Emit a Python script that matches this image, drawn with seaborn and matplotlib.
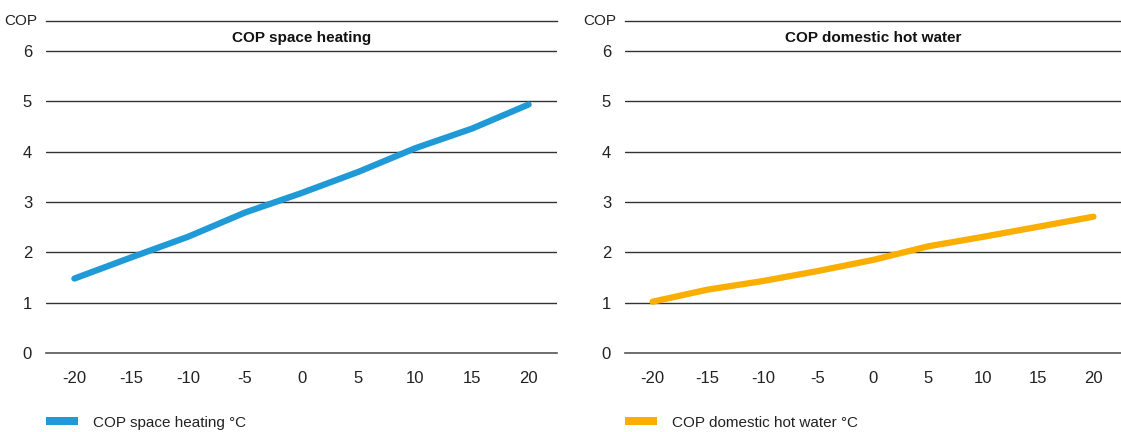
import pandas as pd
import numpy as np
import seaborn as sns
import matplotlib.pyplot as plt
from matplotlib.patches import Patch

# Data
temps = [-20, -15, -10, -5, 0, 5, 10, 15, 20]
cop_heating = [1.48, 1.90, 2.31, 2.79, 3.18, 3.60, 4.07, 4.46, 4.94]
cop_hot_water = [1.02, 1.26, 1.43, 1.63, 1.85, 2.12, 2.31, 2.51, 2.71]
y_ticks = [0, 1, 2, 3, 4, 5, 6]

titles = ['COP space heating', 'COP domestic hot water']
legend_labels = ['COP space heating °C', 'COP domestic hot water °C']
colors = ['#1f9ad7', '#f9ae00']

sns.set_style('white')
plt.rcParams['font.family'] = ['Liberation Sans', 'DejaVu Sans']
plt.rcParams['axes.unicode_minus'] = False

df = pd.DataFrame({'temp': temps, 'heating': cop_heating, 'hot_water': cop_hot_water})

fig = plt.figure(figsize=(11.21, 4.32), dpi=100)
ax1 = fig.add_axes([46 / 1121, 1 - 353 / 432, 511 / 1121, 332 / 432])
ax2 = fig.add_axes([625 / 1121, 1 - 353 / 432, 496 / 1121, 332 / 432])

for ax, col, title, color, lab in zip([ax1, ax2], ['heating', 'hot_water'], titles, colors, legend_labels):
    sns.lineplot(data=df, x='temp', y=col, ax=ax, color=color, linewidth=4.5,
                 solid_capstyle='round', solid_joinstyle='round', zorder=3)
    ax.set_xlim(-22.5, 22.5)
    ax.set_ylim(0, 6.6)
    ax.set_yticks(y_ticks)
    ax.set_xticks(temps)
    ax.set_xticks(np.arange(-22.5, 23, 5), minor=True)
    ax.tick_params(axis='x', which='major', length=0, pad=13, labelsize=12, labelcolor='#222222')
    ax.tick_params(axis='x', which='minor', length=8, width=1, color='#555555', direction='out')
    ax.tick_params(axis='y', length=0, pad=10, labelsize=12, labelcolor='#222222')
    for y in y_ticks[1:]:
        ax.axhline(y, color='#333333', linewidth=1, zorder=1)
    for s in ['left', 'right']:
        ax.spines[s].set_visible(False)
    ax.spines['top'].set_color('#333333')
    ax.spines['top'].set_linewidth(1)
    ax.spines['bottom'].set_color('#555555')
    ax.spines['bottom'].set_linewidth(1.2)
    ax.set_xlabel('')
    ax.set_ylabel('')
    ax.text(0, 6.27, title, ha='center', va='center', fontsize=11,
            fontweight='bold', color='#111111')
    ax.text(-0.018, 6.6, 'COP', ha='right', va='center', fontsize=11, color='#222222',
            transform=ax.get_yaxis_transform())
    ax.legend(handles=[Patch(facecolor=color, edgecolor='none', label=lab)],
              loc='center left', bbox_to_anchor=(0.0, -0.21), frameon=False,
              fontsize=11, handlelength=2.1, handleheight=0.45, handletextpad=0.95,
              borderpad=0, borderaxespad=0, labelcolor='#222222')

fig.savefig('out.png', dpi=100)
